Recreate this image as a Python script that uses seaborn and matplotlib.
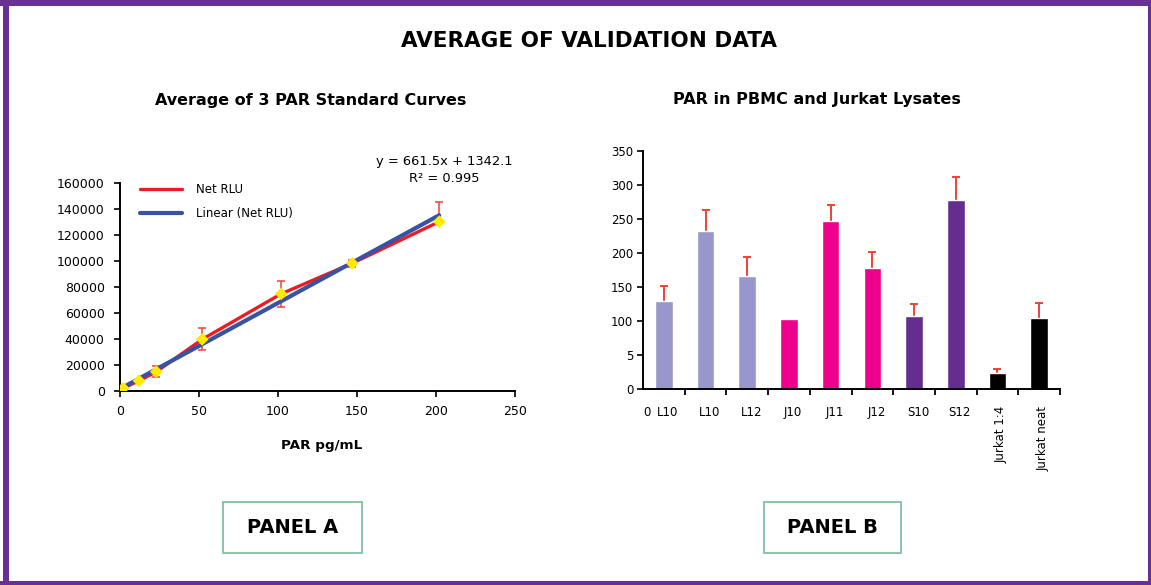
import numpy as np
import pandas as pd
import matplotlib
matplotlib.use("Agg")
import matplotlib.pyplot as plt
import matplotlib.transforms as mtransforms
from matplotlib.patches import Rectangle
import seaborn as sns

# ---------------- Panel A data ----------------
par_conc = [2, 12, 23, 52, 102, 147, 202]
net_rlu = [1900, 7700, 14600, 39500, 74500, 98000, 130000]
net_rlu_err_low = [500, 1200, 4100, 8500, 9900, 2500, 0]
net_rlu_err_high = [500, 1200, 4100, 8500, 9900, 2500, 15000]
fit_slope = 661.5
fit_intercept = 1342.1
fit_r2 = 0.995
a_xticks = [0, 50, 100, 150, 200, 250]
a_yticks = [0, 20000, 40000, 60000, 80000, 100000, 120000, 140000, 160000]

# ---------------- Panel B data ----------------
sample_labels = ["L10", "L10", "L12", "J10", "J11", "J12", "S10", "S12",
                 "Jurkat 1:4", "Jurkat neat"]
sample_groups = ["L", "L", "L", "J", "J", "J", "S", "S", "Jurkat", "Jurkat"]
par_values = [129, 233, 166, 103, 247, 178, 108, 278, 24.5, 104]
par_err_upper = [23, 31, 28, 0, 23, 23, 18, 34, 5, 23]
b_yticks = [0, 50, 100, 150, 200, 250, 300, 350]
b_yticklabels = ["0", "5", "100", "150", "200", "250", "300", "350"]
group_colors = {"L": "#9797CB", "J": "#EC008C", "S": "#662D91", "Jurkat": "#000000"}

RED = "#ED1C24"
BLUE = "#3953A4"
YELLOW = "#FFEA00"
ERR = "#EF4136"
PURPLE = "#673092"
GREEN = "#84BFA3"

sns.set_style("ticks")
plt.rcParams["font.family"] = ["DejaVu Sans"]
plt.rcParams["text.color"] = "black"
plt.rcParams["axes.labelcolor"] = "black"
plt.rcParams["xtick.color"] = "black"
plt.rcParams["ytick.color"] = "black"

W, H = 1151, 585
fig = plt.figure(figsize=(W / 100, H / 100), dpi=100)
fig.patch.set_facecolor("white")


def fx(px):
    return px / W


def fy(py):
    return 1 - py / H


# ---------------- Panel A ----------------
ax_a = fig.add_axes([fx(120), fy(390.7), 395 / W, 208 / H])
df_a = pd.DataFrame({"conc": par_conc, "rlu": net_rlu,
                     "lo": net_rlu_err_low, "hi": net_rlu_err_high})
ax_a.errorbar(df_a["conc"], df_a["rlu"], yerr=[df_a["lo"], df_a["hi"]], fmt="none",
              ecolor=ERR, elinewidth=1.1, capsize=2.6, capthick=1.1, zorder=1)
sns.lineplot(data=df_a, x="conc", y="rlu", color=RED, lw=2.4, ax=ax_a,
             label="Net RLU", zorder=2)
fit_x = np.array([min(par_conc), max(par_conc)])
df_fit = pd.DataFrame({"conc": fit_x, "rlu": fit_slope * fit_x + fit_intercept})
sns.lineplot(data=df_fit, x="conc", y="rlu", color=BLUE, lw=3.0, ax=ax_a,
             label="Linear (Net RLU)", zorder=3)
sns.scatterplot(data=df_a, x="conc", y="rlu", marker="D", color=YELLOW, s=42,
                edgecolor="none", ax=ax_a, zorder=4, legend=False)
ax_a.set_xlim(0, 250)
ax_a.set_ylim(0, 160000)
ax_a.set_xticks(a_xticks)
ax_a.set_yticks(a_yticks)
ax_a.set_yticklabels([str(v) for v in a_yticks])
ax_a.set_xlabel("")
ax_a.set_ylabel("")
ax_a.tick_params(axis="x", direction="out", length=4, width=1.2, labelsize=9,
                 colors="black", pad=6)
ax_a.tick_params(axis="y", direction="out", length=4, width=1.2, labelsize=9,
                 colors="black", pad=7)
for s in ["top", "right"]:
    ax_a.spines[s].set_visible(False)
for s in ["left", "bottom"]:
    ax_a.spines[s].set_linewidth(1.4)
    ax_a.spines[s].set_color("black")
ax_a.legend(loc="upper left", bbox_to_anchor=(0.05, 1.0), frameon=False,
            handlelength=3.6, handletextpad=1.2, labelspacing=0.95,
            borderpad=0, borderaxespad=0, fontsize=8.5)

fig.text(fx(444), fy(161.7), f"y = {fit_slope}x + {fit_intercept}",
         ha="center", va="center", fontsize=9.4)
fig.text(fx(444), fy(179), f"R\u00b2 = {fit_r2}", ha="center", va="center",
         fontsize=9.4)
fig.text(fx(321.7), fy(445), "PAR pg/mL", ha="center", va="center",
         fontsize=9.7, fontweight="bold")

# ---------------- Panel B ----------------
ax_b = fig.add_axes([fx(643), fy(389.3), 417 / W, 238.3 / H])
df_b = pd.DataFrame({"id": list(range(len(sample_labels))),
                     "label": sample_labels,
                     "group": sample_groups,
                     "value": par_values,
                     "err": par_err_upper})
sns.barplot(data=df_b, x="id", y="value", hue="group", palette=group_colors,
            dodge=False, width=0.42, saturation=1, legend=False, errorbar=None,
            ax=ax_b, zorder=2)
mask = df_b["err"] > 0
eb = ax_b.errorbar(df_b.loc[mask, "id"], df_b.loc[mask, "value"],
                   yerr=[np.zeros(mask.sum()), df_b.loc[mask, "err"]],
                   fmt="none", ecolor=ERR, elinewidth=1.4, capsize=2.9,
                   capthick=1.4, zorder=1)
eb[1][0].set_visible(False)
ax_b.set_xlim(-0.5, len(sample_labels) - 0.5)
ax_b.set_ylim(0, 350)
ax_b.set_yticks(b_yticks)
ax_b.set_yticklabels(b_yticklabels)
ax_b.set_xticks([-0.5] + list(df_b["id"]))
ax_b.set_xticklabels(["0"] + sample_labels)
ax_b.set_xticks(np.arange(-0.5, len(sample_labels), 1.0), minor=True)
ax_b.tick_params(axis="x", which="major", length=0, labelsize=8.5, pad=12,
                 colors="black")
ax_b.tick_params(axis="x", which="minor", direction="out", length=4.5, width=1.3,
                 colors="black")
ax_b.tick_params(axis="y", direction="out", length=4, width=1.2, labelsize=8.5,
                 colors="black", pad=3)
ax_b.set_xlabel("")
ax_b.set_ylabel("")
offset = mtransforms.ScaledTranslation(4 / 100, 0, fig.dpi_scale_trans)
for lab in ax_b.get_xticklabels():
    lab.set_transform(lab.get_transform() + offset)
    if lab.get_text().startswith("Jurkat"):
        lab.set_rotation(90)
        lab.set_va("top")
        lab.set_ha("center")
for s in ["top", "right"]:
    ax_b.spines[s].set_visible(False)
for s in ["left", "bottom"]:
    ax_b.spines[s].set_linewidth(1.4)
    ax_b.spines[s].set_color("black")

# ---------------- Titles ----------------
fig.text(fx(589), fy(40.7), "AVERAGE OF VALIDATION DATA", ha="center",
         va="center", fontsize=15.5, fontweight="bold")
fig.text(fx(310.5), fy(100), "Average of 3 PAR Standard Curves", ha="center",
         va="center", fontsize=11.5, fontweight="bold")
fig.text(fx(816.7), fy(99), "PAR in PBMC and Jurkat Lysates", ha="center",
         va="center", fontsize=11.5, fontweight="bold")

# ---------------- Panel boxes ----------------
for (x0, x1, txt) in [(223, 362, "PANEL A"), (764, 901, "PANEL B")]:
    fig.patches.append(Rectangle((fx(x0), fy(553)), (x1 - x0) / W, 51 / H,
                                 transform=fig.transFigure, fill=False,
                                 edgecolor=GREEN, linewidth=1.3))
    fig.text(fx((x0 + x1) / 2), fy(527.5), txt, ha="center", va="center",
             fontsize=14, fontweight="bold")

# ---------------- Purple frame ----------------
for (x0, y0, w, h) in [(0, 0, W, 6), (3, 0, 6, H), (0, 581, W, 4), (1148, 0, 3, H)]:
    fig.patches.append(Rectangle((fx(x0), fy(y0 + h)), w / W, h / H,
                                 transform=fig.transFigure, facecolor=PURPLE,
                                 edgecolor="none"))

fig.savefig("out.png", dpi=100, facecolor="white")
